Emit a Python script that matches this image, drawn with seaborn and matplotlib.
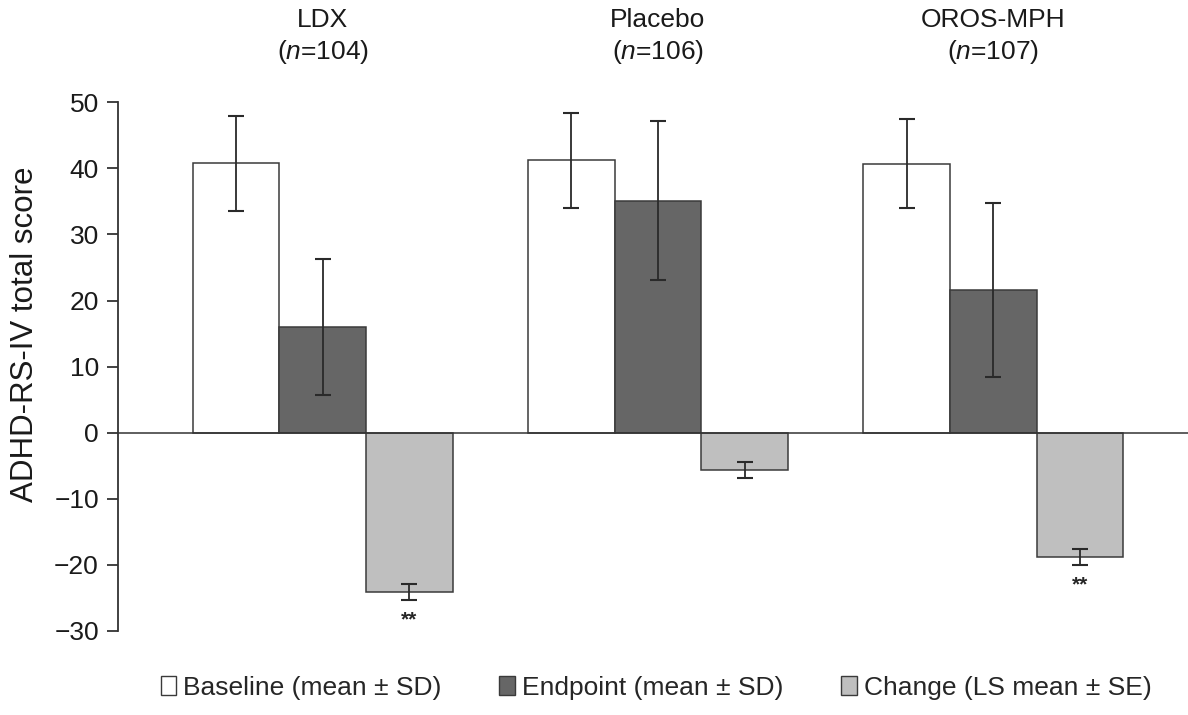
import pandas as pd
import numpy as np
import matplotlib
matplotlib.use("Agg")
import matplotlib.pyplot as plt
import matplotlib.transforms as mtransforms
import seaborn as sns

sns.set_theme(style="white")
plt.rcParams['font.family'] = ['Liberation Sans', 'DejaVu Sans']
plt.rcParams['mathtext.fontset'] = 'custom'
plt.rcParams['mathtext.rm'] = 'Liberation Sans'
plt.rcParams['mathtext.it'] = 'Liberation Sans:italic'

# data
groups = ["LDX", "Placebo", "OROS-MPH"]
n_sizes = [104, 106, 107]
measures = ["Baseline (mean ± SD)", "Endpoint (mean ± SD)", "Change (LS mean ± SE)"]
baseline = [40.8, 41.2, 40.7]
baseline_sd = [7.2, 7.2, 6.7]
endpoint = [16.0, 35.1, 21.6]
endpoint_sd = [10.3, 12.0, 13.2]
change = [-24.1, -5.6, -18.8]
change_se = [1.25, 1.2, 1.2]
sig = ["**", "", "**"]
y_ticks = [-30, -20, -10, 0, 10, 20, 30, 40, 50]

colors = ["#ffffff", "#666666", "#bfbfbf"]

df = pd.DataFrame({
    'Group': groups * 3,
    'Measure': [m for m in measures for _ in groups],
    'Score': baseline + endpoint + change,
    'Err': baseline_sd + endpoint_sd + change_se,
})

fig = plt.figure(figsize=(11.88, 7.15), dpi=100)
ax = fig.add_axes([0.0996, 0.1176, 0.9004, 0.7393])

sns.barplot(data=df, x='Group', y='Score', hue='Measure', order=groups,
            hue_order=measures, palette=colors, width=0.775, gap=0,
            edgecolor="#3a3a3a", linewidth=1.1, errorbar=None, ax=ax,
            legend=False)

# error bars on top of the seaborn bars
for cont, m in zip(ax.containers, measures):
    sub = df[df['Measure'] == m].set_index('Group').loc[groups]
    xs = [p.get_x() + p.get_width() / 2 for p in cont.patches]
    ax.errorbar(xs, sub['Score'].values, yerr=sub['Err'].values, fmt='none',
                ecolor="#2a2a2a", elinewidth=1.3, capsize=6, capthick=1.5,
                zorder=5)

# significance stars under the change bars
chg = ax.containers[2]
for p, s, v, e in zip(chg.patches, sig, change, change_se):
    if s:
        ax.text(p.get_x() + p.get_width() / 2, v - e - 1.6, s,
                ha='center', va='top', fontsize=15, fontweight='bold')

# group headers
trans = mtransforms.blended_transform_factory(ax.transData, fig.transFigure)
for i, (g, n) in enumerate(zip(groups, n_sizes)):
    ax.text(i, 1 - 37 / 715, g + "\n(" + r"$\mathit{n}$" + f"={n})",
            transform=trans, ha='center', va='center', fontsize=19,
            linespacing=1.3, color="#1a1a1a")

ax.set_xlim(-0.6096, 2.581)
ax.set_ylim(-30, 50)
ax.set_yticks(y_ticks)
ax.tick_params(axis='y', labelsize=19, length=8, width=1.3, color="#333333",
               left=True, pad=6, labelcolor="#1a1a1a")
ax.tick_params(axis='x', bottom=False, labelbottom=False)
ax.set_xlabel("")
ax.set_ylabel("")
for s in ['top', 'right']:
    ax.spines[s].set_visible(False)
ax.spines['bottom'].set_position(('data', 0))
ax.spines['left'].set_color("#333333")
ax.spines['bottom'].set_color("#333333")
ax.spines['left'].set_linewidth(1.3)
ax.spines['bottom'].set_linewidth(1.1)

fig.text(25 / 1188, 1 - 334.5 / 715, "ADHD-RS-IV total score", rotation=90,
         ha='center', va='center', fontsize=22.5, color="#1a1a1a")

handles = [plt.Rectangle((0, 0), 1, 1, facecolor=c, edgecolor="#3a3a3a",
                         linewidth=1.0) for c in colors]
fig.legend(handles, measures, loc='center', bbox_to_anchor=(656 / 1188, 1 - 688 / 715),
           ncol=3, frameon=False, fontsize=19, handlelength=0.6,
           handleheight=0.75, handletextpad=0.25, columnspacing=2.2)

fig.savefig("out.png", dpi=100)
